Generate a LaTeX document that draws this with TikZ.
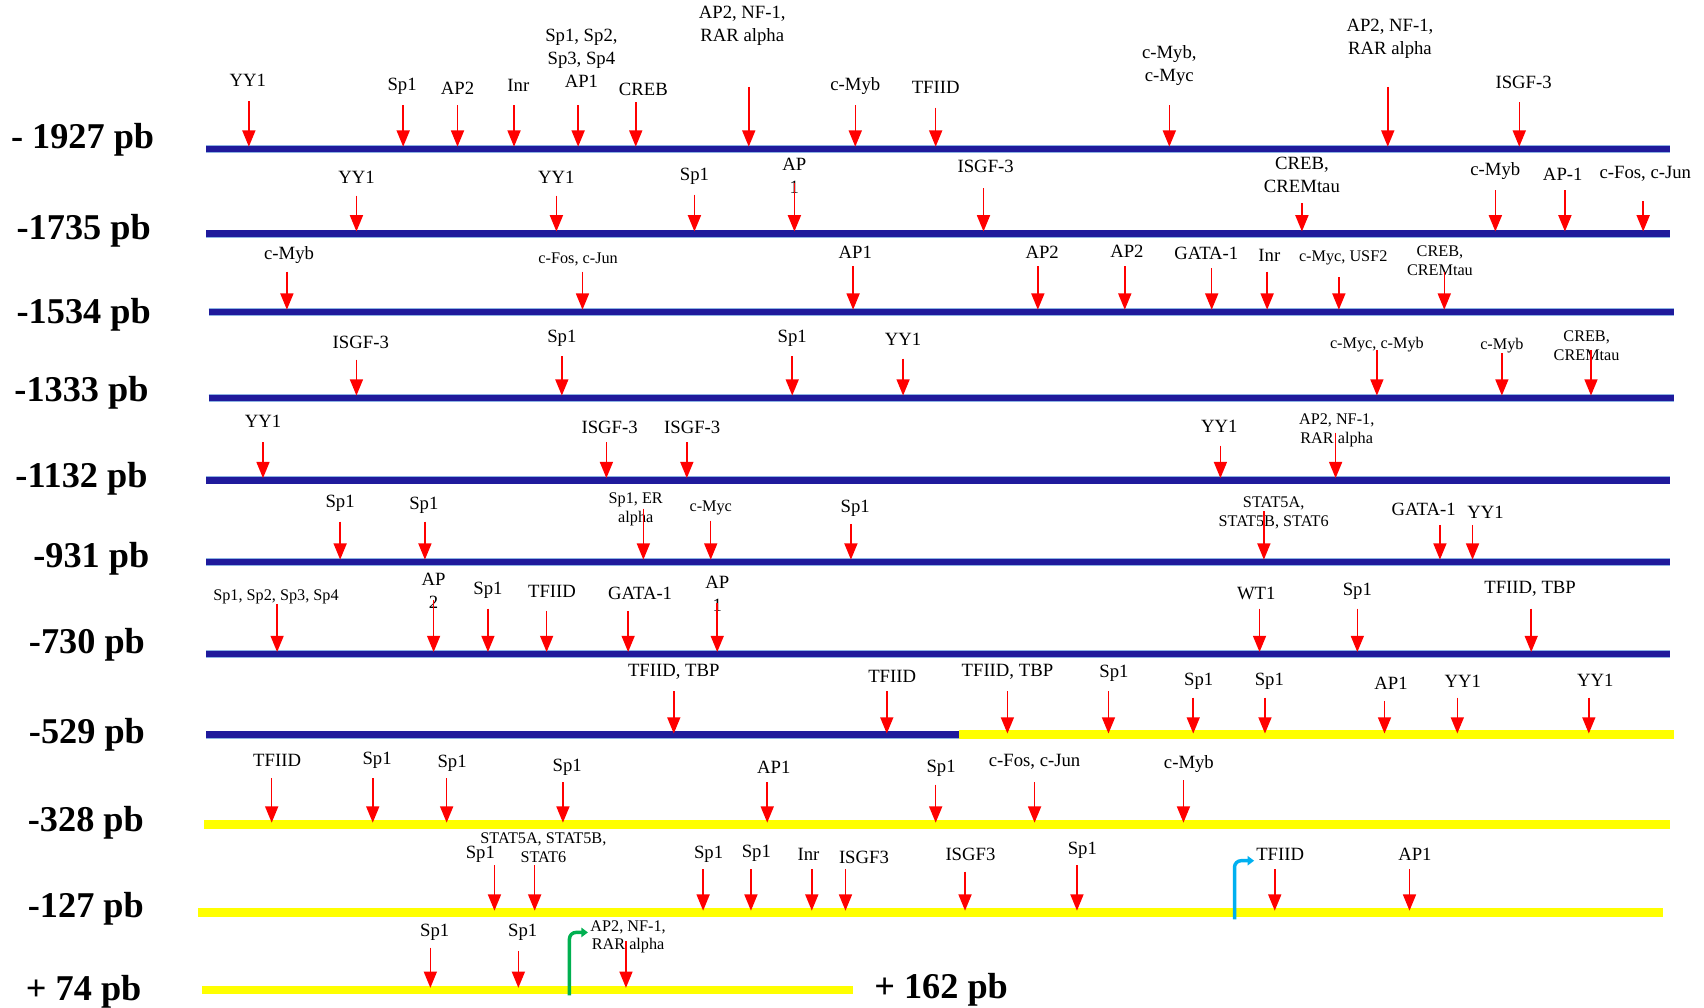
\documentclass[tikz,border=0pt]{standalone}
\usepackage{fontspec}
\setmainfont{Liberation Serif}
\usetikzlibrary{arrows.meta}
\definecolor{BandBlue}{HTML}{1F1A9C}
\definecolor{BandEdge}{HTML}{8DB3E2}
\definecolor{BandYellow}{HTML}{FFFF00}
\definecolor{SiteRed}{HTML}{FF0000}
\definecolor{TssBlue}{HTML}{00B0F0}
\definecolor{TssGreen}{HTML}{00B050}

% one row of binding sites: name, y of the heads, x/top/label x/label y/text/style
\newcommand{\sites}[3]{%
  \foreach \x/\t/\lx/\ly/\txt/\st [count=\i] in {#3} {
    \node[\st] (#1l\i) at (\lx,\ly) {\txt};
    \coordinate (#1t\i) at (\x,\t);
    \coordinate (#1h\i) at (\x,#2);
    \draw[site] (#1t\i) -- (#1h\i);
  }}

\begin{document}
\begin{tikzpicture}[
  x=0.02cm, y=-0.02cm,
  lab/.style={font=\fontsize{9.8}{12}\selectfont, align=center, inner sep=0pt},
  labs/.style={font=\fontsize{8.5}{9.8}\selectfont, align=center, inner sep=0pt},
  rowlab/.style={font=\fontsize{19}{22}\selectfont\bfseries, anchor=base, inner sep=0pt},
  site/.style={-{Triangle[width=0.24cm, length=0.3cm]}, SiteRed, line width=0.8pt},
  bandA/.style={draw=BandEdge, double=BandBlue, double distance=3.4pt, line width=0.4pt},
  bandB/.style={BandYellow, line width=4.6pt},
  tss/.style={line width=1.8pt, rounded corners=0.12cm, -{Triangle[width=0.17cm, length=0.12cm]}}
]
  \useasboundingbox (0,0) rectangle (1568,927);

  % bands
  \draw[bandA] (190,137) -- (1537,137);
  \draw[bandA] (190,215) -- (1537,215);
  \draw[bandA] (192,287) -- (1540,287);
  \draw[bandA] (192,366) -- (1540,366);
  \draw[bandA] (190,442) -- (1537,442);
  \draw[bandA] (190,517) -- (1537,517);
  \draw[bandA] (190,602) -- (1537,602);
  \draw[bandA] (190,676) -- (882,676);
  \draw[bandB] (882,676) -- (1540,676);
  \draw[bandB] (188,759) -- (1537,759);
  \draw[bandB] (182,840) -- (1530,840);
  \draw[bandB] (186,911) -- (785,911);

  % positions
  \node[rowlab] (pos1) at (76,137) {- 1927 pb};
  \node[rowlab] (pos2) at (77,220) {-1735 pb};
  \node[rowlab] (pos3) at (77,298) {-1534 pb};
  \node[rowlab] (pos4) at (75,369) {-1333 pb};
  \node[rowlab] (pos5) at (75,449) {-1132 pb};
  \node[rowlab] (pos6) at (84,522) {-931 pb};
  \node[rowlab] (pos7) at (80,601) {-730 pb};
  \node[rowlab] (pos8) at (80,684) {-529 pb};
  \node[rowlab] (pos9) at (79,765) {-328 pb};
  \node[rowlab] (pos10) at (79,844) {-127 pb};
  \node[rowlab] (pos11) at (77,921) {+ 74 pb};
  \node[rowlab] (pos12) at (866,919) {+ 162 pb};

  % sites
  \sites{r1}{135}{229/93/228/74/YY1/lab, 371/97/370/79/Sp1/lab, 421/97/421/81/AP2/lab,
    473/97/477/79/Inr/lab, 532/97/535/54/{Sp1, Sp2,\\Sp3, Sp4\\AP1}/lab,
    585/94/592/82/CREB/lab, 689/80/683/24/{AP2, NF-1,\\RAR alpha}/lab,
    787/97/787/79/c-Myb/lab, 861/99/861/80/TFIID/lab,
    1076/97/1076/60/{c-Myb,\\c-Myc}/lab, 1277/80/1279/36/{AP2, NF-1,\\RAR alpha}/lab,
    1398/94/1402/76/ISGF-3/lab}
  \sites{r2}{213}{328/180/328/163/YY1/lab, 512/180/512/163/YY1/lab, 639/179/639/162/Sp1/lab,
    731/168/731/162/{AP\\1}/lab, 905/173/907/153/ISGF-3/lab,
    1198/187/1198/161/{CREB,\\CREMtau}/lab, 1376/175/1376/157/c-Myb/lab,
    1440/175/1438/160/AP-1/lab, 1512/185/1514/160/{c-Fos, c-Jun}/lab}
  \sites{r3}{285}{264/250/266/235/c-Myb/lab, 536/250/532/239/{c-Fos, c-Jun}/labs,
    785/245/787/232/AP1/lab, 955/245/959/232/AP2/lab, 1035/245/1037/231/AP2/lab,
    1115/247/1110/233/GATA-1/lab, 1166/250/1168/235/Inr/lab,
    1232/255/1236/237/{c-Myc, USF2}/labs, 1329/250/1325/240/{CREB,\\CREMtau}/labs}
  \sites{r4}{364}{328/331/332/315/ISGF-3/lab, 517/328/517/311/Sp1/lab, 729/328/729/311/Sp1/lab,
    831/330/831/312/YY1/lab, 1267/322/1267/317/{c-Myc, c-Myb}/labs,
    1382/325/1382/318/c-Myb/labs, 1464/322/1460/318/{CREB,\\CREMtau}/labs}
  \sites{r5}{440}{242/407/242/388/YY1/lab, 558/407/561/393/ISGF-3/lab,
    632/407/637/393/ISGF-3/lab, 1123/410/1122/392/YY1/lab,
    1229/398/1230/396/{AP2, NF-1,\\RAR alpha}/labs}
  \sites{r6}{515}{313/480/313/463/Sp1/lab, 391/480/390/465/Sp1/lab,
    592/468/585/469/{Sp1, ER\\alpha}/labs, 654/479/654/467/c-Myc/labs,
    783/482/787/468/Sp1/lab, 1163/470/1172/472/{STAT5A,\\STAT5B, STAT6}/labs,
    1325/483/1310/469/GATA-1/lab, 1355/483/1367/471/YY1/lab}
  \sites{r7}{600}{255/556/254/549/{Sp1, Sp2, Sp3, Sp4}/labs, 399/552/399/544/{AP\\2}/lab,
    449/560/449/543/Sp1/lab, 503/562/508/544/TFIID/lab, 578/562/589/546/GATA-1/lab,
    660/555/660/546/{AP\\1}/lab, 1159/560/1156/546/WT1/lab, 1249/560/1249/544/Sp1/lab,
    1409/560/1408/542/{TFIID, TBP}/lab}
  \sites{r8}{675}{620/636/620/618/{TFIID, TBP}/lab, 816/636/821/622/TFIID/lab,
    927/636/927/618/{TFIID, TBP}/lab, 1020/636/1025/620/Sp1/lab,
    1098/642/1103/627/Sp1/lab, 1164/642/1168/627/Sp1/lab, 1274/645/1280/629/AP1/lab,
    1341/642/1346/627/YY1/lab, 1462/642/1468/626/YY1/lab}
  \sites{r9}{757}{250/716/255/700/TFIID/lab, 343/716/347/700/Sp1/lab, 411/716/416/702/Sp1/lab,
    518/720/522/706/Sp1/lab, 706/720/712/706/AP1/lab, 861/722/866/707/Sp1/lab,
    952/720/952/701/{c-Fos, c-Jun}/lab, 1089/718/1094/703/c-Myb/lab}
  \sites{r10}{838}{455/796/442/786/Sp1/lab, 492/796/500/780/{STAT5A, STAT5B,\\STAT6}/labs,
    647/800/652/786/Sp1/lab, 691/800/696/785/Sp1/lab, 747/800/744/786/Inr/lab,
    778/800/795/789/ISGF3/lab, 888/802/893/786/ISGF3/lab, 991/796/996/782/Sp1/lab,
    1173/800/1178/786/TFIID/lab, 1297/800/1302/786/AP1/lab}
  \sites{r11}{909}{396/872/400/858/Sp1/lab, 477/875/481/858/Sp1/lab,
    576/866/578/862/{AP2, NF-1,\\RAR alpha}/labs}

  % transcription starts
  \coordinate (tssA) at (1136,846);
  \coordinate (tssB) at (1154,792);
  \draw[tss, TssBlue] (tssA) |- (tssB);
  \coordinate (atgA) at (524,916);
  \coordinate (atgB) at (541,858);
  \draw[tss, TssGreen] (atgA) |- (atgB);
\end{tikzpicture}
\end{document}
